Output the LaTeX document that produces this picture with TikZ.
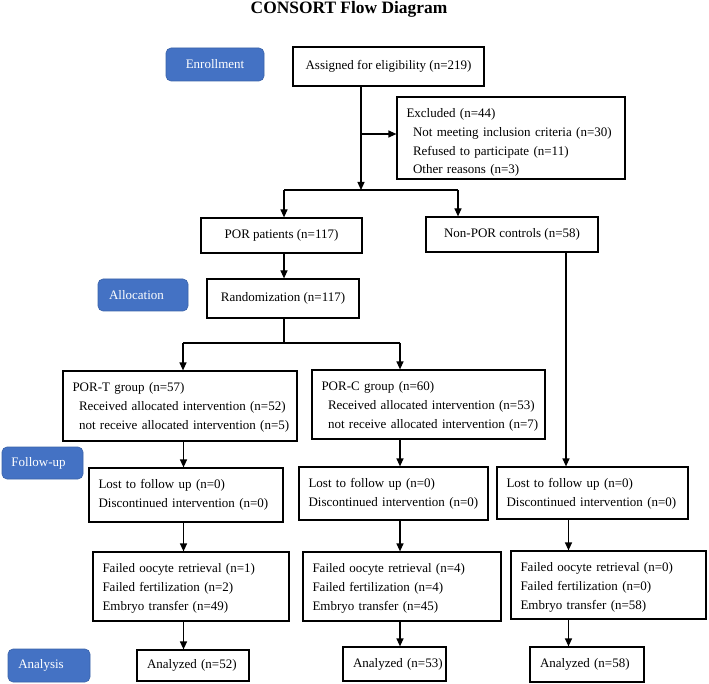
\documentclass[tikz,border=0pt]{standalone}
\usepackage{fontspec}
\setmainfont{Liberation Serif}
\usetikzlibrary{arrows.meta,calc}
\definecolor{phase}{HTML}{4472C4}
\definecolor{phaseborder}{HTML}{3A62A8}
\tikzset{
  box/.style={draw, line width=1.2pt, inner sep=0pt, font=\fontsize{13}{18.8}\selectfont},
  listbox/.style={box, align=left, inner xsep=9.5pt, inner ysep=0pt},
  leftbox/.style={box, align=left, inner xsep=10pt, inner ysep=0pt},
  phasebox/.style={fill=phase, draw=phaseborder, line width=0.6pt, rounded corners=5pt,
    text=white, inner sep=0pt, font=\fontsize{13}{15}\selectfont},
  arr/.style={line width=1.2pt, -{Triangle[length=8pt,width=7pt]}},
  ln/.style={line width=1.2pt},
}
\newcommand{\ind}{\hspace*{6.5pt}}
\newcommand{\fl}[1]{\rule{0pt}{20.5pt}\mbox{#1}}
\newcommand{\ml}[1]{\mbox{#1}}
\newcommand{\lastl}[2]{\mbox{#2}\rule[-#1pt]{0pt}{#1pt}}
\begin{document}
\begin{tikzpicture}[x=1pt,y=-1pt]
\useasboundingbox (0,0) rectangle (709,684);
% title
\node[anchor=base, font=\fontsize{17.4}{20}\selectfont\bfseries] (title) at (349,14) {CONSORT Flow Diagram};
% phase labels
\node[phasebox, minimum width=98pt, minimum height=33pt] (enr) at (215,64.5) {Enrollment};
\node[phasebox, minimum width=90pt, minimum height=32pt] (alloc) at (143,295) {Allocation\hspace*{13pt}};
\node[phasebox, minimum width=81pt, minimum height=32pt] (fol) at (42.5,463) {Follow-up\hspace*{8pt}};
\node[phasebox, minimum width=82pt, minimum height=33pt] (ana) at (49,665.5) {Analysis\hspace*{16pt}};
% boxes
\node[box, minimum width=191pt, minimum height=39pt] (assigned) at (388.5,66.5) {Assigned for eligibility (n=219)};
\node[listbox, text width=209pt] (excluded) at (511,138)
  {\fl{Excluded (n=44)}\\ \ml{\ind Not meeting inclusion criteria (n=30)}\\ \ml{\ind Refused to participate (n=11)}\\ \lastl{5.1}{\ind Other reasons (n=3)}};
\node[box, minimum width=161pt, minimum height=35pt] (por) at (281.5,235.5) {POR patients (n=117)};
\node[box, minimum width=172pt, minimum height=35pt] (nonpor) at (512,234.5) {Non-POR controls (n=58)};
\node[box, minimum width=152pt, minimum height=39pt] (rand) at (283,298.5) {Randomization (n=117)};
\node[listbox, text width=215pt] (port) at (180,406)
  {\fl{POR-T group (n=57)}\\ \ml{\ind Received allocated intervention (n=52)}\\ \lastl{11.9}{\ind not receive allocated intervention (n=5)}};
\node[listbox, text width=214pt] (porc) at (428.5,404.5)
  {\fl{POR-C group (n=60)}\\ \ml{\ind Received allocated intervention (n=53)}\\ \lastl{10.9}{\ind not receive allocated intervention (n=7)}};
\node[listbox, text width=175pt] (lostt) at (186,495)
  {\fl{Lost to follow up (n=0)}\\ \lastl{14.7}{Discontinued intervention (n=0)}};
\node[listbox, text width=170pt] (lostc) at (393.5,493.5)
  {\fl{Lost to follow up (n=0)}\\ \lastl{13.7}{Discontinued intervention (n=0)}};
\node[listbox, text width=172pt] (lostn) at (592.5,493)
  {\fl{Lost to follow up (n=0)}\\ \lastl{12.7}{Discontinued intervention (n=0)}};
\node[listbox, text width=177pt] (failt) at (191,586.5)
  {\fl{Failed oocyte retrieval (n=1)}\\ \ml{Failed fertilization (n=2)}\\ \lastl{10.9}{Embryo transfer (n=49)}};
\node[listbox, text width=179pt] (failc) at (402,586.5)
  {\fl{Failed oocyte retrieval (n=4)}\\ \ml{Failed fertilization (n=4)}\\ \lastl{10.9}{Embryo transfer (n=45)}};
\node[listbox, text width=176pt] (failn) at (608.5,585)
  {\fl{Failed oocyte retrieval (n=0)}\\ \ml{Failed fertilization (n=0)}\\ \lastl{9.9}{Embryo transfer (n=58)}};
\node[leftbox, text width=92pt, minimum height=31pt] (anat) at (193,665.5) {\mbox{Analyzed (n=52)}};
\node[leftbox, text width=83pt, minimum height=34pt] (anac) at (394.5,664) {\mbox{Analyzed (n=53)}};
\node[leftbox, text width=94pt, minimum height=35pt] (anan) at (587,664.5) {\mbox{Analyzed (n=58)}};
% connector coordinates
\coordinate (ca) at (361,190);
\coordinate (ex) at (361,134);
\coordinate (bl) at (284,190);
\coordinate (br) at (458,190);
\coordinate (b2c) at (284,343);
\coordinate (b2l) at (183,343);
\coordinate (b2r) at (400,343);
\coordinate (cn) at (566,0);
\coordinate (colT) at (183.5,0);
\coordinate (colC) at (400,0);
\coordinate (colN) at (568.5,0);
% connectors
\draw[arr] (ca |- assigned.south) -- (ca);
\draw[arr] (ex) -- (ex -| excluded.west);
\draw[ln] (bl) -- (br);
\draw[arr] (bl) -- (bl |- por.north);
\draw[arr] (br) -- (br |- nonpor.north);
\draw[arr] (bl |- por.south) -- (bl |- rand.north);
\draw[ln] (b2c |- rand.south) -- (b2c);
\draw[ln] (b2l) -- (b2r);
\draw[arr] (b2l) -- (b2l |- port.north);
\draw[arr] (b2r) -- (b2r |- porc.north);
\draw[arr] (colT |- port.south) -- (colT |- lostt.north);
\draw[arr] (colC |- porc.south) -- (colC |- lostc.north);
\draw[arr] (cn |- nonpor.south) -- (cn |- lostn.north);
\draw[arr] (colT |- lostt.south) -- (colT |- failt.north);
\draw[arr] (colC |- lostc.south) -- (colC |- failc.north);
\draw[arr] (colN |- lostn.south) -- (colN |- failn.north);
\draw[arr] (colT |- failt.south) -- (colT |- anat.north);
\draw[arr] (colC |- failc.south) -- (colC |- anac.north);
\draw[arr] (colN |- failn.south) -- (colN |- anan.north);
\end{tikzpicture}
\end{document}
